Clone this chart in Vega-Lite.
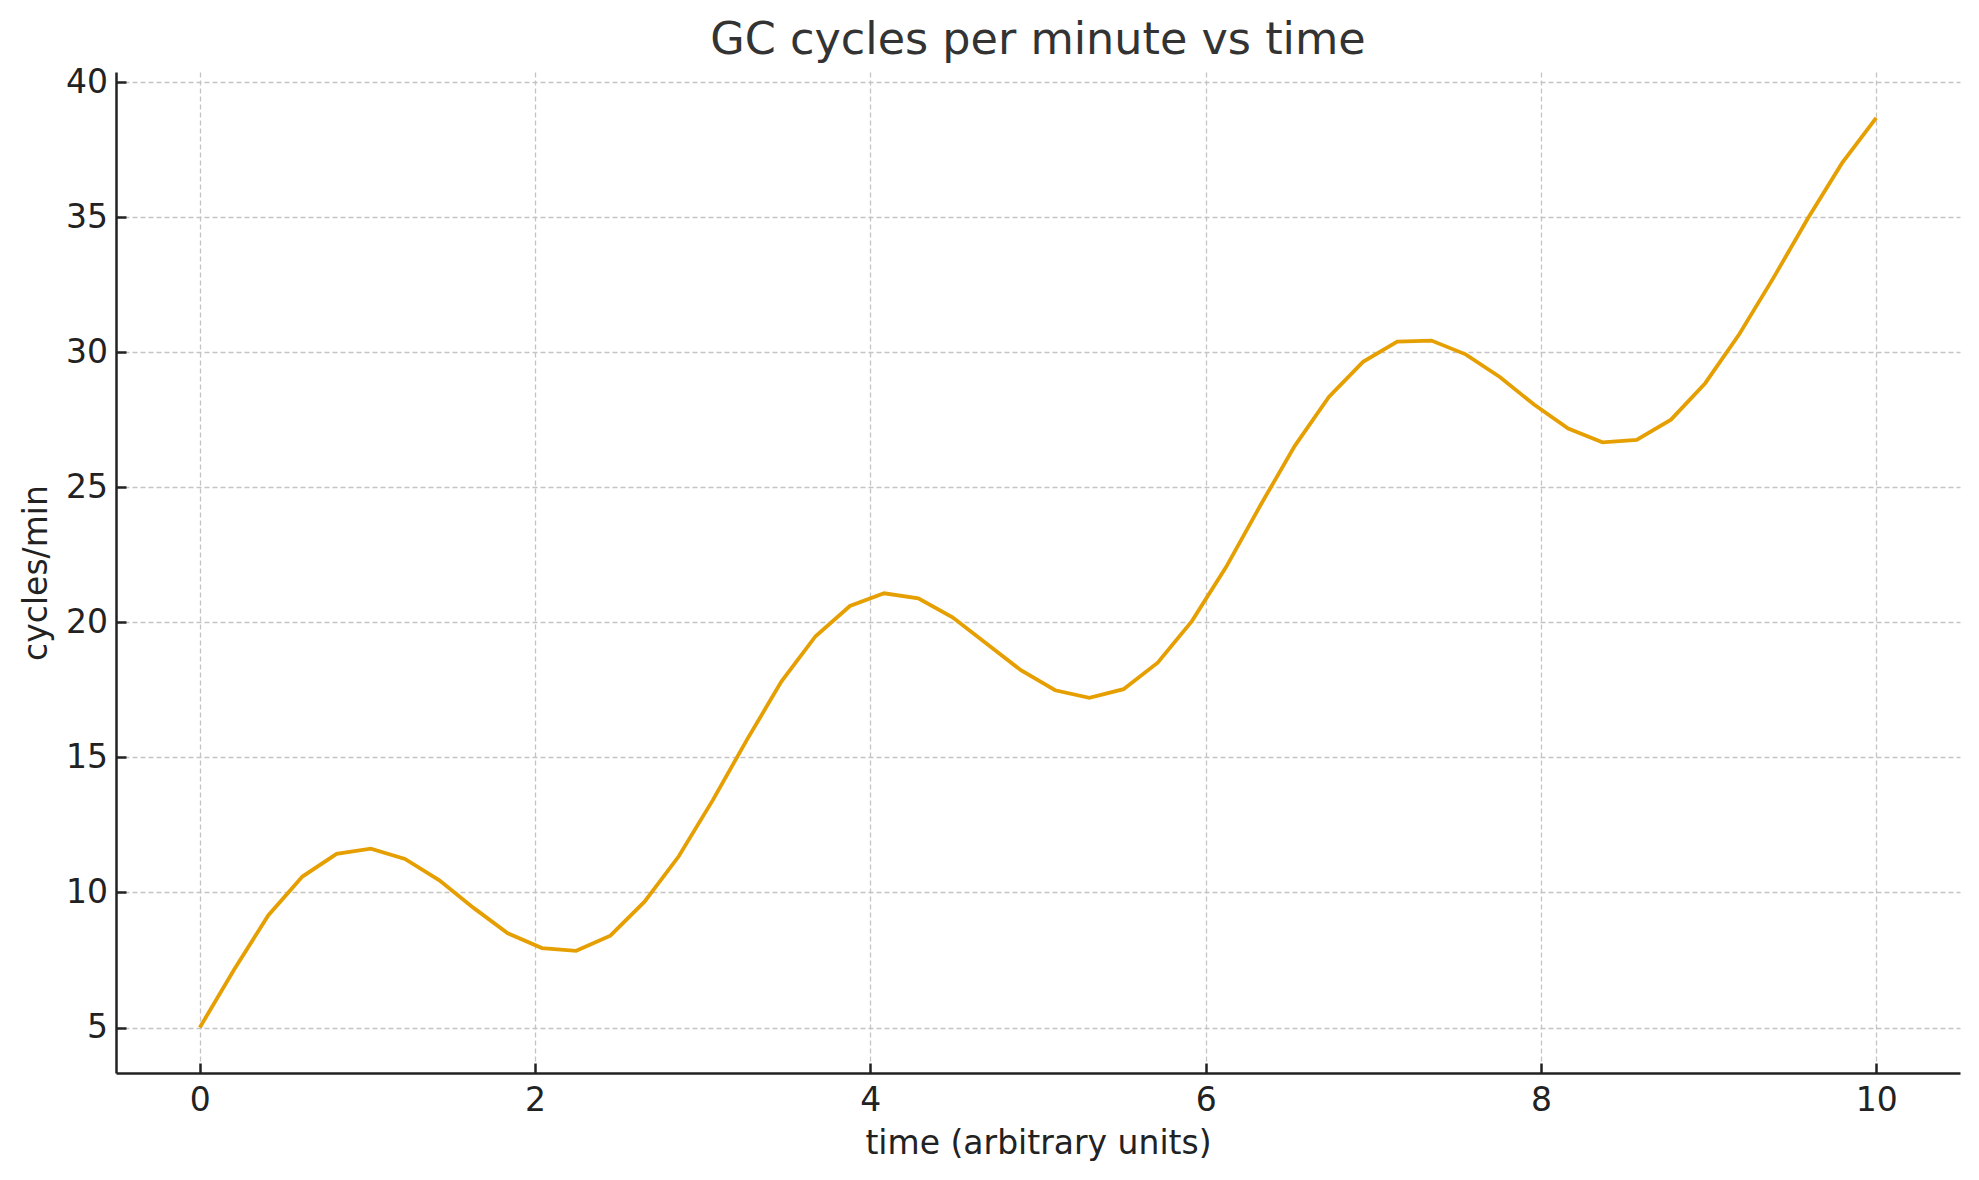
{
  "$schema": "https://vega.github.io/schema/vega-lite/v6.json",
  "width": 1844,
  "height": 1001,
  "autosize": {"type": "none"},
  "padding": {"left": 116, "top": 72, "right": 19, "bottom": 107},
  "background": "white",
  "title": {
    "text": "GC cycles per minute vs time",
    "font": "DejaVu Sans",
    "fontSize": 44.5,
    "fontWeight": "normal",
    "color": "#333333",
    "baseline": "alphabetic",
    "offset": -32.5
  },
  "config": {
    "view": {"stroke": null},
    "axis": {
      "labelFont": "DejaVu Sans",
      "labelFontSize": 33,
      "labelColor": "#222222",
      "titleFont": "DejaVu Sans",
      "titleFontSize": 33,
      "titleFontWeight": "normal",
      "titleColor": "#222222",
      "domainColor": "#222222",
      "domainWidth": 2.5,
      "tickColor": "#222222",
      "tickWidth": 2.5,
      "tickSize": -10,
      "gridColor": "#c4c4c4",
      "gridWidth": 1.3,
      "gridDash": [5, 3]
    }
  },
  "data": {
    "values": [
      {"t": 0.000, "c": 5.00},
      {"t": 0.204, "c": 7.14},
      {"t": 0.408, "c": 9.15},
      {"t": 0.612, "c": 10.59},
      {"t": 0.816, "c": 11.43},
      {"t": 1.020, "c": 11.62},
      {"t": 1.224, "c": 11.24},
      {"t": 1.429, "c": 10.45},
      {"t": 1.633, "c": 9.43},
      {"t": 1.837, "c": 8.49},
      {"t": 2.041, "c": 7.94},
      {"t": 2.245, "c": 7.84},
      {"t": 2.449, "c": 8.40},
      {"t": 2.653, "c": 9.66},
      {"t": 2.857, "c": 11.34},
      {"t": 3.061, "c": 13.43},
      {"t": 3.265, "c": 15.67},
      {"t": 3.469, "c": 17.81},
      {"t": 3.673, "c": 19.49},
      {"t": 3.878, "c": 20.61},
      {"t": 4.082, "c": 21.08},
      {"t": 4.286, "c": 20.89},
      {"t": 4.490, "c": 20.19},
      {"t": 4.694, "c": 19.21},
      {"t": 4.898, "c": 18.23},
      {"t": 5.102, "c": 17.49},
      {"t": 5.306, "c": 17.21},
      {"t": 5.510, "c": 17.53},
      {"t": 5.714, "c": 18.51},
      {"t": 5.918, "c": 20.05},
      {"t": 6.122, "c": 22.05},
      {"t": 6.327, "c": 24.34},
      {"t": 6.531, "c": 26.53},
      {"t": 6.735, "c": 28.35},
      {"t": 6.939, "c": 29.65},
      {"t": 7.143, "c": 30.40},
      {"t": 7.347, "c": 30.44},
      {"t": 7.551, "c": 29.93},
      {"t": 7.755, "c": 29.09},
      {"t": 7.959, "c": 28.07},
      {"t": 8.163, "c": 27.18},
      {"t": 8.367, "c": 26.67},
      {"t": 8.571, "c": 26.76},
      {"t": 8.776, "c": 27.51},
      {"t": 8.980, "c": 28.86},
      {"t": 9.184, "c": 30.68},
      {"t": 9.388, "c": 32.77},
      {"t": 9.592, "c": 34.96},
      {"t": 9.796, "c": 37.01},
      {"t": 10.000, "c": 38.69}
    ]
  },
  "mark": {"type": "line", "color": "#E69F00", "strokeWidth": 3.8, "clip": true},
  "encoding": {
    "x": {
      "field": "t",
      "type": "quantitative",
      "scale": {"domain": [-0.5, 10.5], "nice": false, "zero": false},
      "axis": {
        "title": "time (arbitrary units)",
        "values": [0, 2, 4, 6, 8, 10],
        "labelPadding": 21,
        "titlePadding": 10
      }
    },
    "y": {
      "field": "c",
      "type": "quantitative",
      "scale": {"domain": [3.315, 40.385], "nice": false, "zero": false},
      "axis": {
        "title": "cycles/min",
        "values": [5, 10, 15, 20, 25, 30, 35, 40],
        "labelPadding": 18.5,
        "titlePadding": 12
      }
    }
  }
}
